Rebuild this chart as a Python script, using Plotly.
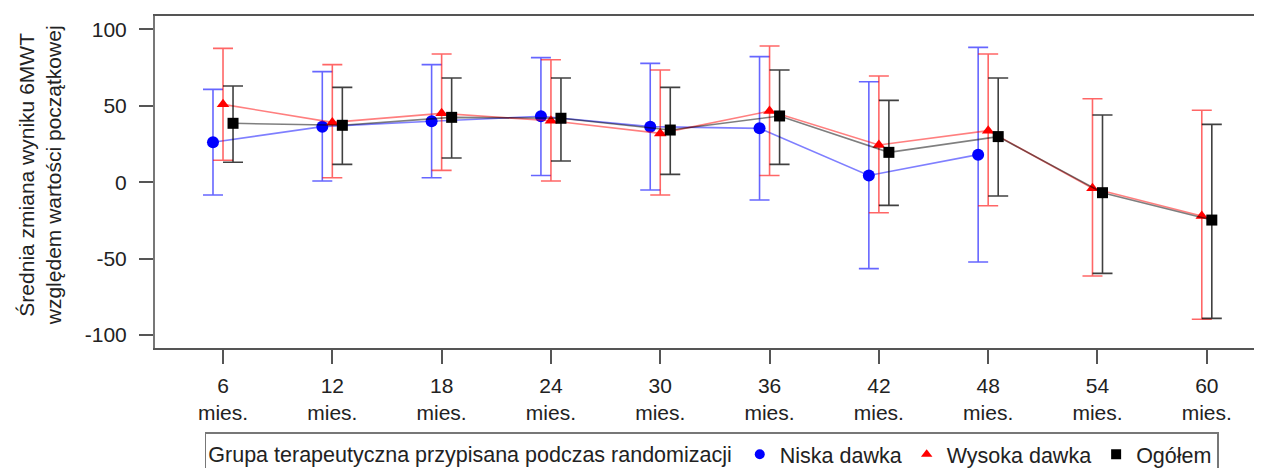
import plotly.graph_objects as go

months = [6, 12, 18, 24, 30, 36, 42, 48, 54, 60]
tick_labels = [f"{m}<br>mies." for m in months]
y_ticks = [-100, -50, 0, 50, 100]
y_tick_labels = ["-100", "-50", "0", "50", "100"]

# Niska dawka (low dose) - available up to 48 months
low_mean = [26.1, 36.3, 39.8, 43.1, 36.3, 35.2, 4.4, 18.0, None, None]
low_upper = [60.7, 72.3, 76.9, 81.5, 77.7, 82.1, 65.7, 88.2, None, None]
low_lower = [-8.4, 0.8, 2.9, 4.4, -5.1, -11.7, -56.6, -52.2, None, None]

# Wysoka dawka (high dose)
high_mean = [50.9, 39.1, 45.0, 40.2, 31.9, 46.5, 24.3, 33.7, -4.0, -22.1]
high_upper = [87.5, 76.9, 83.8, 80.1, 73.4, 89.1, 69.4, 83.8, 54.6, 47.0]
high_lower = [14.3, 2.9, 7.7, 0.8, -8.4, 4.4, -20.0, -15.4, -61.4, -89.7]

# Ogółem (overall)
all_mean = [38.5, 37.2, 42.4, 41.8, 34.1, 43.3, 19.5, 29.8, -6.9, -24.8]
all_upper = [62.9, 62.0, 68.1, 68.1, 62.0, 73.4, 53.5, 68.1, 43.9, 37.8]
all_lower = [13.0, 11.6, 15.8, 13.8, 5.1, 11.6, -15.2, -9.1, -59.7, -89.1]

groups = [
    dict(name="Niska dawka", mean=low_mean, up=low_upper, lo=low_lower,
         color="#0000FF", line="rgba(0,0,255,0.5)", err="rgba(0,0,255,0.6)",
         symbol="circle", size=12),
    dict(name="Wysoka dawka", mean=high_mean, up=high_upper, lo=high_lower,
         color="#FF0000", line="rgba(255,0,0,0.5)", err="rgba(255,0,0,0.6)",
         symbol="triangle-up", size=11),
    dict(name="Ogółem", mean=all_mean, up=all_upper, lo=all_lower,
         color="#000000", line="rgba(0,0,0,0.5)", err="rgba(0,0,0,0.75)",
         symbol="square", size=11),
]

DODGE = 0.55  # months between dodged groups

positions = {g["name"]: [] for g in groups}
for i, m in enumerate(months):
    present = [g for g in groups if g["mean"][i] is not None]
    n = len(present)
    for g in groups:
        if g["mean"][i] is None:
            positions[g["name"]].append(None)
        else:
            k = present.index(g)
            positions[g["name"]].append(m + (k - (n - 1) / 2) * DODGE)

fig = go.Figure()

for g in groups:
    xs, ys, eplus, eminus = [], [], [], []
    for i in range(len(months)):
        if g["mean"][i] is None:
            continue
        xs.append(positions[g["name"]][i])
        ys.append(g["mean"][i])
        eplus.append(g["up"][i] - g["mean"][i])
        eminus.append(g["mean"][i] - g["lo"][i])
    fig.add_trace(go.Scatter(
        x=xs, y=ys, mode="lines+markers", showlegend=False,
        line=dict(color=g["line"], width=1.6),
        marker=dict(color=g["color"], symbol=g["symbol"], size=g["size"]),
        error_y=dict(type="data", symmetric=False, array=eplus, arrayminus=eminus,
                     color=g["err"], thickness=1.6, width=10),
        name=g["name"],
    ))

for g in groups:
    fig.add_trace(go.Scatter(
        x=[None], y=[None], mode="markers", name=g["name"],
        marker=dict(color=g["color"], symbol=g["symbol"], size=10),
    ))

font_family = "Liberation Sans, Arial, sans-serif"

# page body has an 8px default margin: figure is sized to fill the rest of the window
fig.update_layout(
    width=1254, height=460,
    margin=dict(l=147, r=0, t=8, b=120, autoexpand=False),
    paper_bgcolor="white", plot_bgcolor="white",
    font=dict(family=font_family, size=21, color="#222"),
    showlegend=True,
    legend=dict(
        orientation="h", x=0.045, xanchor="left", y=-0.254, yanchor="top",
        title=dict(text="Grupa terapeutyczna przypisana podczas randomizacji", side="left",
                   font=dict(size=21.5)),
        font=dict(size=21.5), bordercolor="#777", borderwidth=1.5,
        itemwidth=30, tracegroupgap=0,
    ),
    xaxis=dict(
        range=[2.267, 63.03], tickmode="array", tickvals=months, ticktext=tick_labels,
        showgrid=False, zeroline=False, showline=True, mirror=True,
        linecolor="#555", linewidth=1.5, ticks="outside", ticklen=14,
        tickcolor="#555", tickwidth=1.5, ticklabelstandoff=4,
        tickfont=dict(size=21),
    ),
    yaxis=dict(
        range=[-108.5, 108.7], tickmode="array", tickvals=y_ticks, ticktext=y_tick_labels,
        showgrid=False, zeroline=False, showline=True, mirror=False,
        linecolor="#777", linewidth=2, ticks="outside", ticklen=14,
        tickcolor="#555", tickwidth=1.5, ticklabelstandoff=8,
    ),
    annotations=[dict(
        text="Średnia zmiana wyniku 6MWT<br>względem wartości początkowej",
        xref="paper", yref="paper", x=-0.104, y=0.52, xanchor="center", yanchor="middle",
        textangle=-90, showarrow=False, font=dict(size=21, color="#222"),
    )],
)

fig.write_html("out.html")
